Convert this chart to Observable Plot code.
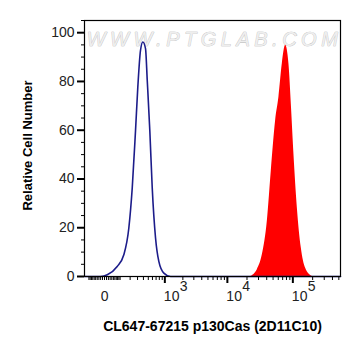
<!DOCTYPE html>
<html>
<head>
<meta charset="utf-8">
<script src="https://cdn.jsdelivr.net/npm/d3@7"></script>
<script src="https://cdn.jsdelivr.net/npm/@observablehq/plot@0.6"></script>
<style>
  html, body { margin: 0; padding: 0; background: #fff; }
  #chart { width: 361px; height: 356px; }
</style>
</head>
<body>
<div id="chart"></div>
<script>
// Blue (control) histogram: fluorescence intensity vs relative cell number
const blueX = [-140, -20, 14, 77, 133, 185, 226, 270, 304, 348, 389, 441, 477, 535, 594, 684, 784, 961, 1252, 530000];
const blueY = [0, 0, 0.7, 4.1, 8.9, 19.9, 36.4, 59.8, 77.6, 92.8, 96.2, 93.5, 80.4, 59.8, 36.4, 15.8, 6.2, 1.4, 0, 0];

// Red (stained) histogram
const redX = [22700, 28760, 34300, 40870, 46970, 54650, 61370, 69140, 77640, 87130, 94710, 103830, 116970, 134400, 156500, 197900];
const redY = [0, 2.8, 8.9, 22.7, 43.3, 63.9, 73.5, 87.3, 94.8, 87.3, 70.8, 50.2, 28.2, 11.7, 3.4, 0];

// Axis ticks and labels
const yMajor = [0, 20, 40, 60, 80, 100];
const yMinor = [5, 10, 15, 25, 30, 35, 45, 50, 55, 65, 70, 75, 85, 90, 95, 105];
const xMajor = [1000, 10000, 100000];
const xExponents = ["3", "4", "5"];
const xMinor = [-100, -90, -80, -70, -60, -50, -40, -30, -20, -10, 0, 10, 20, 30, 40, 50, 60, 70, 80, 90,
  100, 200, 300, 400, 500, 600, 700, 800, 900,
  2000, 3000, 4000, 5000, 6000, 7000, 8000, 9000,
  20000, 30000, 40000, 50000, 60000, 70000, 80000, 90000,
  200000, 300000, 400000, 500000];
const zeroLabel = [{x: 0, t: "0"}];
const xTitle = "CL647-67215 p130Cas (2D11C10)";
const yTitle = "Relative Cell Number";
const watermark = "WWW.PTGLAB.COM";

const blue = blueX.map((x, i) => ({x, y: blueY[i]}));
const red = redX.map((x, i) => ({x, y: redY[i]}));
const pow = xMajor.map((x, i) => ({x, e: xExponents[i]}));

const font = "Liberation Sans, Arial, sans-serif";

const chart = Plot.plot({
  width: 361,
  height: 356,
  marginLeft: 84,
  marginRight: 21,
  marginTop: 20,
  marginBottom: 80,
  style: {fontFamily: font, background: "white", color: "black"},
  x: {type: "symlog", constant: 138, domain: [-140, 530000]},
  y: {domain: [0, 105]},
  marks: [
    Plot.text([watermark], {frameAnchor: "top", dy: 11, dx: 2, fontSize: 20, fontStyle: "italic",
      fill: "#eeeeee", stroke: "#b4b4b4", strokeWidth: 0.6, ariaLabel: () => "watermark"}),
    Plot.areaY(red, {x: "x", y: "y", fill: "#ff0000", curve: "monotone-x"}),
    Plot.lineY(blue, {x: "x", y: "y", stroke: "#1c1c8a", strokeWidth: 1.6, curve: "monotone-x"}),
    Plot.frame({stroke: "black", strokeWidth: 1.2}),
    Plot.axisY({ticks: yMajor, tickSize: 7, tickPadding: 3, strokeWidth: 2, fontSize: 14,
      fill: "#222", label: null}),
    Plot.axisY({ticks: yMinor, tickSize: 3, tickFormat: () => "", label: null}),
    Plot.axisX({ticks: xMajor, tickSize: 7, strokeWidth: 2, tickFormat: () => "", label: null}),
    Plot.axisX({ticks: xMinor, tickSize: 4, tickFormat: () => "", label: null}),
    Plot.text(zeroLabel, {x: "x", text: "t", frameAnchor: "bottom", dy: 24, fontSize: 14, fill: "#222"}),
    Plot.text(pow, {x: "x", text: () => "10", frameAnchor: "bottom", dy: 24, dx: -1,
      textAnchor: "start", fontSize: 14, fill: "#222"}),
    Plot.text(pow, {x: "x", text: "e", frameAnchor: "bottom", dy: 14, dx: 15,
      textAnchor: "start", fontSize: 14, fill: "#222"}),
    Plot.text([xTitle], {frameAnchor: "bottom", dy: 54, dx: 0, fontSize: 14, fontWeight: "bold", fill: "black"}),
    Plot.text([yTitle], {frameAnchor: "left", textAnchor: "middle", dx: -57, dy: -3, rotate: -90,
      fontSize: 13, fontWeight: "bold", fill: "black"})
  ]
});

d3.select(chart).selectAll("[aria-label=watermark], [aria-label=watermark] text").style("letter-spacing", "4.5px");
document.getElementById("chart").appendChild(chart);
</script>
</body>
</html>
